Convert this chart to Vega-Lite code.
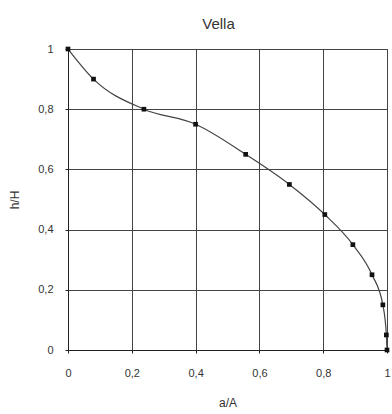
{
  "$schema": "https://vega.github.io/schema/vega-lite/v6.json",
  "width": 319,
  "height": 301,
  "autosize": "none",
  "padding": {"left": 68, "top": 49, "right": 5, "bottom": 64},
  "background": "white",
  "title": {"text": "Vella", "fontSize": 15, "font": "Liberation Sans", "fontWeight": "normal", "color": "#333", "offset": 11, "dx": -9},
  "config": {
    "view": {"stroke": "#333", "strokeWidth": 1},
    "axis": {"gridColor": "#444", "gridWidth": 1, "gridOpacity": 1, "domainColor": "#222", "tickColor": "#222", "tickSize": 3,
      "labelFont": "Liberation Sans", "labelFontSize": 11, "labelColor": "#333",
      "titleFont": "Liberation Sans", "titleFontSize": 12, "titleFontWeight": "normal", "titleColor": "#333"}
  },
  "data": {"values": [
    {"a": 0, "h": 1},
    {"a": 0.08, "h": 0.9},
    {"a": 0.238, "h": 0.8},
    {"a": 0.40, "h": 0.75},
    {"a": 0.557, "h": 0.65},
    {"a": 0.694, "h": 0.55},
    {"a": 0.805, "h": 0.45},
    {"a": 0.893, "h": 0.35},
    {"a": 0.953, "h": 0.25},
    {"a": 0.987, "h": 0.15},
    {"a": 0.998, "h": 0.05},
    {"a": 1, "h": 0}
  ]},
  "encoding": {
    "x": {"field": "a", "type": "quantitative", "scale": {"domain": [0, 1], "nice": false}, "title": "a/A",
      "axis": {"values": [0, 0.2, 0.4, 0.6, 0.8, 1], "format": "~g", "labelExpr": "replace(datum.label, '.', ',')", "labelPadding": 14, "titlePadding": 19, "labelFlush": false}},
    "y": {"field": "h", "type": "quantitative", "scale": {"domain": [0, 1], "nice": false}, "title": "h/H",
      "axis": {"values": [0, 0.2, 0.4, 0.6, 0.8, 1], "format": "~g", "labelExpr": "replace(datum.label, '.', ',')", "labelPadding": 12, "titlePadding": 16}}
  },
  "layer": [
    {"mark": {"type": "line", "interpolate": "monotone", "color": "#444", "strokeWidth": 1.2}},
    {"mark": {"type": "point", "shape": "square", "filled": true, "size": 22, "color": "#111", "opacity": 1}}
  ]
}
